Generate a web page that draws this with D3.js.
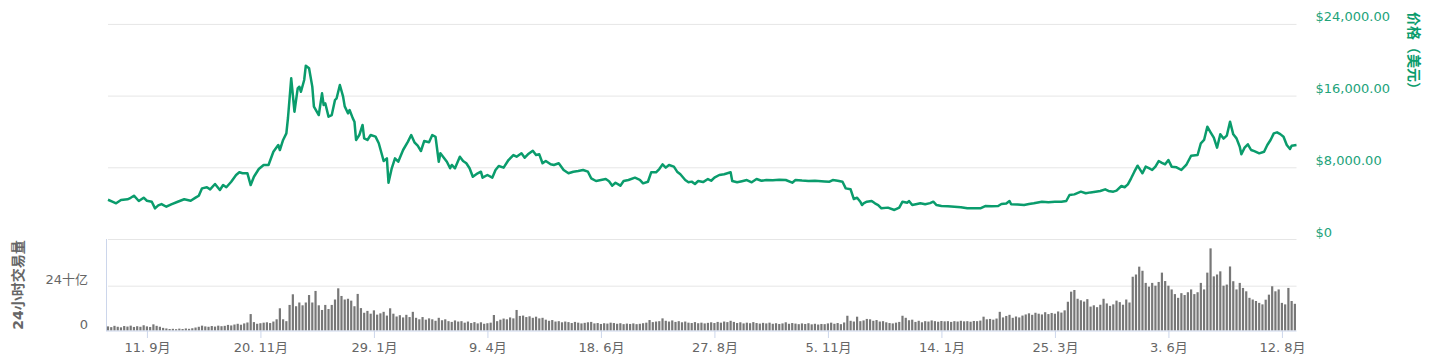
<!DOCTYPE html>
<html><head><meta charset="utf-8">
<script src="https://cdn.jsdelivr.net/npm/d3@7"></script>
<style>
body{margin:0;background:#fff;}
svg text{font-family:"DejaVu Sans","Noto Sans CJK SC",sans-serif;}
</style>
</head><body>
<svg id="chart" width="1438" height="359"></svg>
<script>
// ---------------- DATA ----------------
const startDate = "2017-08-18";
const endDate = "2019-08-21";
// price readings: day offset from startDate, price in USD
const priceDays = [
  0,3,5,8,12,14,16,19,22,24,
  27,29,31,33,36,39,43,47,51,54,
  56,58,61,63,66,69,71,73,76,79,
  81,83,86,88,90,93,96,99,102,105,
  106,108,110,111,113,115,117,118,119,121,
  122,124,126,127,130,132,133,134,136,138,
  140,141,143,145,146,148,149,151,152,153,
  155,157,158,160,162,165,167,169,170,172,
  173,175,177,179,182,185,187,189,191,193,
  195,198,200,202,204,205,209,211,212,214,
  217,219,221,223,225,228,230,231,234,237,
  239,241,244,247,250,252,255,257,259,262,
  264,266,268,270,273,275,278,281,284,287,
  290,293,296,298,301,304,307,309,311,313,
  316,318,321,325,328,330,333,335,338,340,
  342,344,346,349,351,353,356,358,360,362,
  364,367,370,372,374,377,380,384,385,388,
  391,394,397,400,403,406,410,414,418,422,
  424,428,432,436,438,442,445,447,450,453,
  455,458,460,462,464,465,466,468,471,473,
  475,477,481,485,488,490,493,494,496,499,
  501,504,507,509,511,514,518,522,526,530,
  534,538,541,545,549,551,554,556,557,561,
  565,568,571,576,580,584,588,591,593,596,
  600,603,606,609,612,615,617,620,622,625,
  627,629,631,633,635,638,640,642,644,646,
  648,650,652,654,656,659,662,665,668,672,
  674,676,678,680,682,684,686,688,690,692,
  694,696,698,699,701,703,705,707,710,713,
  715,717,719,721,723,725,727,729,730,733
];
const priceValues = [
  4380,4150,3980,4350,4430,4600,4830,4240,4610,4270,
  4160,3420,3750,3900,3600,3870,4160,4430,4270,4610,
  4830,5650,5770,5540,6140,5470,6020,5770,6390,7140,
  7440,7330,7330,6020,6950,7810,8260,8260,9740,10490,
  9930,11050,11790,13500,17930,14200,16810,16990,16430,17740,
  19340,19050,17000,14760,13830,16250,14950,15140,13650,13830,
  15510,15700,17180,15880,14800,14020,14390,13460,13090,11050,
  11600,12720,11230,11050,11600,11420,10680,9370,8700,9000,
  6280,7890,9000,8620,9930,10860,11600,10790,10410,9820,
  10930,10790,11600,11410,8620,9560,8620,7890,8260,7890,
  9180,8700,8450,7890,6950,7330,7510,6840,7140,6840,
  7700,8140,7960,8810,9370,9180,9560,9070,9450,9850,
  9370,9450,8450,8700,8330,8260,8450,7700,7330,7510,
  7590,7700,7510,6770,6470,6580,6690,6450,5950,6280,
  5950,6470,6580,6840,6600,6210,6390,7440,7440,7810,
  8330,7960,8260,8070,7510,7220,6580,6330,6400,6140,
  6470,6350,6690,6500,6840,7140,7220,7440,6470,6330,
  6450,6580,6330,6690,6500,6580,6560,6600,6580,6280,
  6580,6520,6480,6500,6470,6420,6390,6580,6500,6390,
  5650,5540,4460,4610,4160,3790,3980,4160,4240,3980,
  3790,3420,3500,3240,3500,4160,4050,4240,3790,3900,
  3980,3870,4000,4160,3790,3680,3650,3600,3550,3420,
  3430,3420,3680,3650,3680,3900,3950,4240,3870,3850,
  3790,3900,3980,4160,4100,4150,4150,4240,4910,4980,
  5280,5100,5200,5280,5360,5540,5360,5280,5400,5910,
  5770,6100,6770,7510,8180,7330,8070,7900,7700,8070,
  8700,8500,8330,8810,8070,8000,7700,8260,9290,9370,
  10680,11050,12530,11900,11300,10190,11680,11200,11530,13090,
  11680,11230,10300,9450,10190,10570,9930,9800,9560,9740,
  10490,11050,11790,11900,11700,11410,10490,10040,10410,10490
];
// 24h volume (billions USD), one bar every 2 days from startDate
const volumeStepDays = 2;
const volumeValues = [
  2.2,1.8,2.5,2.0,1.7,2.4,2.1,2.6,1.9,2.3,
  2.0,2.8,2.2,1.9,3.3,2.5,2.0,1.4,1.1,0.8,
  0.9,0.7,1.0,0.8,1.1,0.9,1.2,1.6,2.0,2.6,
  2.2,2.0,2.4,2.1,2.6,2.3,2.5,3.0,2.7,3.2,
  3.6,3.1,3.8,4.3,8.8,4.5,3.6,3.9,4.2,4.4,
  4.0,4.8,6.0,11.9,6.0,5.0,13.7,19.4,13.0,15.0,
  13.5,15.0,19.0,15.0,21.2,13.5,11.0,13.7,11.5,13.7,
  16.6,22.6,18.5,16.6,17.0,16.0,13.0,19.6,12.0,9.5,
  10.5,9.0,10.8,8.5,9.2,10.0,8.0,11.9,9.0,7.5,
  8.2,7.0,8.4,7.2,10.0,6.8,6.0,7.2,5.8,6.5,
  6.0,5.2,6.8,5.5,6.0,5.0,4.6,5.4,4.8,5.0,
  4.2,4.8,4.0,4.5,3.8,4.4,3.6,3.9,4.2,8.3,
  5.0,5.8,6.4,6.0,7.0,6.5,11.0,7.8,8.0,7.2,
  7.6,6.8,7.4,6.5,6.8,5.8,5.2,5.6,4.8,5.0,
  4.4,4.8,4.5,4.0,4.6,4.2,3.8,4.1,4.4,4.6,
  3.8,4.0,3.5,3.9,3.7,4.2,4.0,3.6,3.9,3.4,
  3.7,3.5,3.8,3.4,3.6,3.9,4.2,5.6,4.5,4.8,
  5.0,6.5,5.2,4.8,5.4,4.6,5.0,4.4,4.8,4.2,
  4.0,4.5,3.9,4.2,3.8,4.1,4.4,4.0,4.6,4.2,
  4.8,4.5,5.2,4.6,4.0,4.4,3.8,4.2,3.9,4.5,
  4.0,3.7,4.1,3.8,4.2,3.6,3.9,3.5,3.8,4.4,
  3.6,4.0,3.7,3.4,3.8,3.5,3.9,3.3,3.6,3.2,
  3.5,3.4,3.8,4.2,3.6,4.0,3.4,4.3,7.9,5.2,
  4.8,7.4,5.0,5.4,6.2,6.0,5.2,5.6,4.8,5.0,
  4.4,4.0,3.8,4.2,4.6,7.9,6.8,5.5,5.8,4.6,
  5.2,4.4,5.0,4.8,5.4,5.0,4.7,5.1,4.9,5.0,
  4.6,5.0,4.8,5.2,4.9,5.0,4.7,5.1,5.0,5.3,
  7.4,6.0,6.2,5.8,6.4,10.0,7.0,7.8,8.4,6.8,
  7.5,7.0,8.0,8.6,9.2,8.4,9.5,9.0,8.6,9.8,
  8.8,9.4,9.0,10.2,9.6,10.8,15.4,20.8,21.7,17.0,
  16.2,15.5,16.8,12.8,13.5,12.5,13.8,17.0,14.5,13.2,
  14.0,16.0,15.2,13.8,16.6,15.0,28.8,30.0,34.2,32.0,
  25.5,23.5,25.5,24.0,26.0,31.0,26.5,24.0,22.0,19.5,
  17.5,20.0,19.0,20.5,22.0,19.5,20.5,25.5,22.0,31.0,
  44.0,29.0,30.0,31.7,24.0,24.6,34.3,26.4,22.0,25.5,
  22.8,21.0,17.5,16.6,15.8,14.8,14.0,16.5,19.2,23.7,
  21.0,22.0,14.8,14.0,22.8,15.8,14.3
];
const priceTicks = [0, 8000, 16000, 24000];
const priceTickLabels = ["$0", "$8,000.00", "$16,000.00", "$24,000.00"];
const volumeTicks = [0, 24];
const volumeTickLabels = ["0", "24十亿"];
const xTickDates = ["2017-09-11","2017-11-20","2018-01-29","2018-04-09","2018-06-18","2018-08-27","2018-11-05","2019-01-14","2019-03-25","2019-06-03","2019-08-12"];
const xTickLabels = ["11. 9月","20. 11月","29. 1月","9. 4月","18. 6月","27. 8月","5. 11月","14. 1月","25. 3月","3. 6月","12. 8月"];
const priceTitle = "价格（美元）";
const volumeTitle = "24小时交易量";

// ---------------- LAYOUT ----------------
const plotLeft = 108, plotRight = 1296.5;
const priceTop = 23.9, priceBottom = 239;
const volBottom = 330.5, vol24 = 285.7;
const green = "#0a9c6c", greenLabel = "#22a37a";
const gridColor = "#e6e6e6", axisColor = "#ccd6eb", labelColor = "#666666";

const parse = d3.utcParse("%Y-%m-%d");
const t0 = parse(startDate), t1 = parse(endDate);
const svg = d3.select("#chart");

const x = d3.scaleUtc().domain([t0, t1]).range([plotLeft, plotRight]);
const yP = d3.scaleLinear().domain([0, 24000]).range([priceBottom, priceTop]);
const yV = d3.scaleLinear().domain([0, 24]).range([volBottom, vol24]);

// price grid + right labels
const pAxis = d3.axisRight(yP).tickValues(priceTicks)
  .tickFormat((d, i) => priceTickLabels[i])
  .tickSize(-(plotRight - plotLeft)).tickPadding(19);
const pg = svg.append("g").attr("transform", `translate(${plotRight},0)`).call(pAxis);
pg.select(".domain").remove();
pg.selectAll(".tick line").attr("stroke", gridColor).attr("stroke-width", 1);
pg.selectAll(".tick text").attr("fill", greenLabel).attr("font-size", 13)
  .attr("y", -7.5).attr("dy", "0.35em")
  .style("font-family", '"DejaVu Sans", sans-serif');

// volume grid + left labels
const vAxis = d3.axisLeft(yV).tickValues(volumeTicks)
  .tickFormat((d, i) => volumeTickLabels[i])
  .tickSize(-(plotRight - plotLeft)).tickPadding(20);
const vg = svg.append("g").attr("transform", `translate(${plotLeft},0)`).call(vAxis);
vg.select(".domain").remove();
vg.selectAll(".tick line").attr("stroke", d => d === 0 ? "none" : gridColor).attr("stroke-width", 1);
vg.selectAll(".tick text").attr("fill", labelColor).attr("font-size", 13)
  .attr("y", -7).attr("dy", "0.35em");

// volume left axis line
svg.append("line").attr("x1", plotLeft - 1.5).attr("x2", plotLeft - 1.5)
  .attr("y1", priceBottom).attr("y2", volBottom + 0.5)
  .attr("stroke", axisColor).attr("stroke-width", 1);

// volume bars
const volDates = volumeValues.map((v, k) => d3.utcDay.offset(t0, k * volumeStepDays));
svg.append("g").selectAll("rect").data(volumeValues).join("rect")
  .attr("x", (d, k) => x(volDates[k]) - 1.1)
  .attr("width", 2.2)
  .attr("y", d => yV(d))
  .attr("height", d => volBottom - yV(d))
  .attr("fill", "#777777");

// x axis
const xAxis = d3.axisBottom(x).tickValues(xTickDates.map(parse))
  .tickFormat((d, i) => xTickLabels[i]).tickSize(7).tickPadding(5);
const xg = svg.append("g").attr("transform", `translate(0,${volBottom + 0.5})`).call(xAxis);
xg.select(".domain").attr("stroke", axisColor).attr("d", `M${plotLeft - 2},0H${plotRight}`);
xg.selectAll(".tick line").attr("stroke", axisColor);
xg.selectAll(".tick text").attr("fill", labelColor).attr("font-size", 13);

// price line
const pricePts = priceValues.map((v, i) => [d3.utcDay.offset(t0, priceDays[i]), v]);
svg.append("path").datum(pricePts)
  .attr("d", d3.line().x(d => x(d[0])).y(d => yP(d[1])))
  .attr("fill", "none").attr("stroke", green).attr("stroke-width", 2.5)
  .attr("stroke-linejoin", "round");

// titles
svg.append("text").attr("transform", "translate(1413,54) rotate(90)")
  .attr("text-anchor", "middle").attr("dominant-baseline", "middle")
  .attr("font-size", 14).attr("font-weight", "bold").attr("fill", green)
  .text(priceTitle);
svg.append("text").attr("transform", "translate(19,285) rotate(-90)")
  .attr("text-anchor", "middle").attr("dominant-baseline", "middle")
  .attr("font-size", 14).attr("font-weight", "bold").attr("fill", labelColor)
  .text(volumeTitle);
</script>
</body></html>
